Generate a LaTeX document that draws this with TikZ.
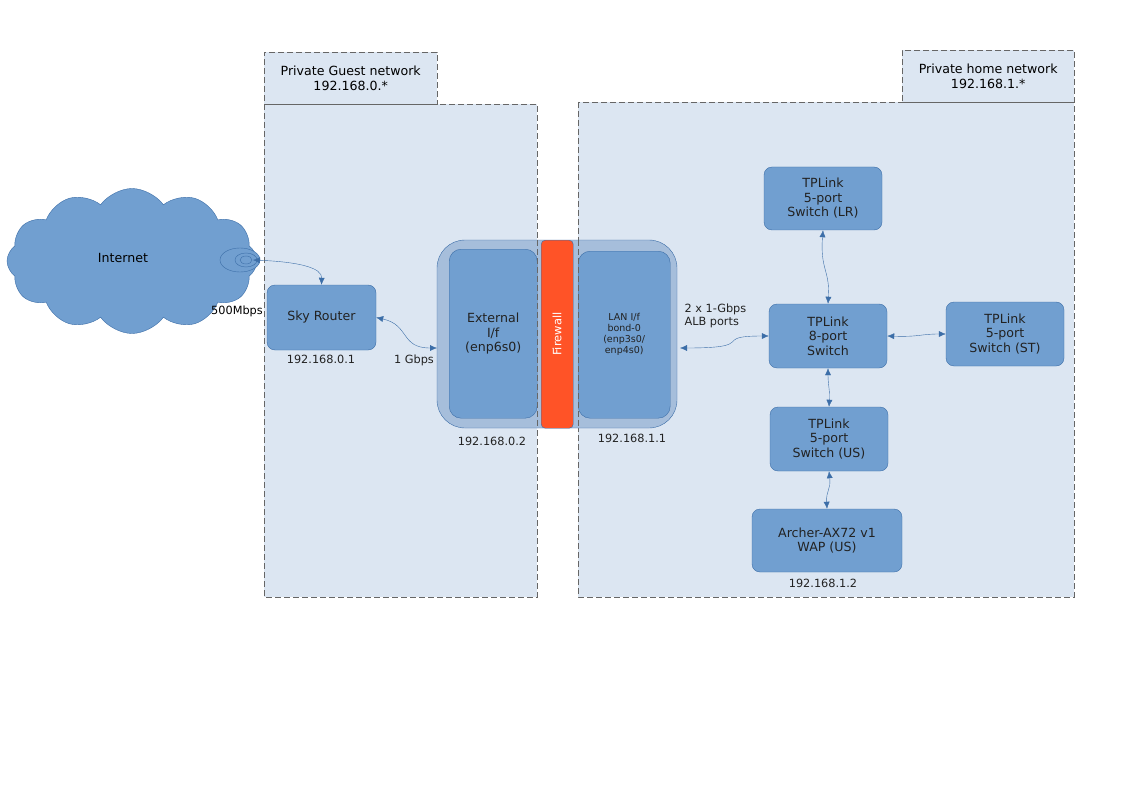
\documentclass[tikz,border=0pt]{standalone}
\usepackage{fontspec}
\setmainfont{DejaVu Sans}
\usetikzlibrary{shapes.symbols,arrows.meta}
\definecolor{area}{HTML}{DCE6F2}
\definecolor{box}{HTML}{719FD0}
\definecolor{bord}{HTML}{3C6EA8}
\definecolor{outer}{HTML}{A6BEDB}
\definecolor{fw}{HTML}{FF5327}
\definecolor{txt}{HTML}{222222}
\begin{document}
\begin{tikzpicture}[x=1pt,y=-1pt,
  zone/.style={draw=gray!80!black,dash pattern=on 6pt off 3pt,fill=area},
  dev/.style={draw=bord,fill=box,rounded corners=8pt,text=txt,align=center,font=\fontsize{12.6}{14.5}\selectfont},
  lab/.style={text=txt,font=\fontsize{11.3}{13}\selectfont,align=left},
  link/.style={draw=bord,{Latex[length=7pt,width=6pt]}-{Latex[length=7pt,width=6pt]}}]
\useasboundingbox (0,0) rectangle (1123,794);
\fill[white] (0,0) rectangle (1123,794);
% zones
\draw[zone] (264,104) rectangle (537,597);
\node[zone,minimum width=173,minimum height=52,anchor=north west,inner sep=0,align=center,font=\fontsize{12.6}{14.5}\selectfont] (gh) at (264,52) {Private Guest network\\192.168.0.*};
\draw[zone] (578,102) rectangle (1074,597);
\node[zone,minimum width=172,minimum height=52,anchor=north west,inner sep=0,align=center,font=\fontsize{12.6}{14.5}\selectfont] (hh) at (902,50) {Private home network\\192.168.1.*};
% cloud
\node[cloud,cloud puffs=12,cloud puff arc=110,aspect=1.75,draw=bord,fill=box,minimum width=250,minimum height=145] (inet) at (132,261) {};
\node[text=black,font=\fontsize{12.6}{14.5}\selectfont] (it) at (123,258) {Internet};
\draw[bord,fill=box] (240,260) ellipse (20 and 12);
\draw[bord,fill=box] (246,260) ellipse (11 and 7);
\draw[bord] (246,260) ellipse (6 and 4);
\coordinate (port) at (253,260);
% central
\draw[bord,fill=outer,rounded corners=28pt] (437,240) rectangle (677,428);
\node[dev,minimum width=88,minimum height=169,anchor=north west,rounded corners=12pt] (ext) at (449,249) {External\\I/f\\(enp6s0)};
\node[dev,minimum width=92,minimum height=167,anchor=north west,rounded corners=12pt,font=\fontsize{9.5}{11}\selectfont] (lan) at (578,251) {LAN I/f\\bond-0\\(enp3s0/\\enp4s0)};
\node[draw=bord,fill=fw,rounded corners=4pt,minimum width=32,minimum height=188,anchor=north west,inner sep=0] (fwb) at (541,240) {};
\node[rotate=90,text=white,font=\fontsize{11.5}{13}\selectfont] (fwt) at (fwb) {Firewall};
\draw[gray!80!black,dash pattern=on 6pt off 3pt] (537,240)--(537,428) (578,240)--(578,428);
% devices
\node[dev,minimum width=109,minimum height=65] (sky) at (321.5,317.5) {Sky Router};
\node[dev,minimum width=118,minimum height=63] (lr) at (823,198.5) {TPLink\\5-port\\Switch (LR)};
\node[dev,minimum width=118,minimum height=64] (sw8) at (828,336) {TPLink\\8-port\\Switch};
\node[dev,minimum width=118,minimum height=64] (st) at (1005,334) {TPLink\\5-port\\Switch (ST)};
\node[dev,minimum width=118,minimum height=64] (us) at (829,439) {TPLink\\5-port\\Switch (US)};
\node[dev,minimum width=150,minimum height=63] (ar) at (827,540.5) {Archer-AX72 v1\\WAP (US)};
% labels
\node[lab] (l1) at (321,359) {192.168.0.1};
\node[lab] (l2) at (414,360) {1 Gbps};
\node[lab,text=black] (l3) at (237,311) {500Mbps};
\node[lab] (l4) at (492,441) {192.168.0.2};
\node[lab] (l5) at (632,438) {192.168.1.1};
\node[lab,anchor=west,font=\fontsize{11.3}{13}\selectfont] (l6) at (681,316) {2 x 1-Gbps\\ALB ports};
\node[lab] (l7) at (823,583) {192.168.1.2};
% links
\draw[link] (port) .. controls (300,262) and (322,268) .. (sky.north);
\draw[link] (sky.east) .. controls (410,325) and (400,348) .. (437,348);
\draw[link] (680,348) .. controls (760,348) and (710,336) .. (sw8.west);
\draw[link] (lr.south) .. controls (820,270) and (830,270) .. (sw8.north);
\draw[link] (sw8.east) .. controls (920,337) and (920,334) .. (st.west);
\draw[link] (sw8.south) .. controls (828,385) and (830,390) .. (us.north);
\draw[link] (us.south) .. controls (831,490) and (826,490) .. (ar.north);
\end{tikzpicture}
\end{document}
